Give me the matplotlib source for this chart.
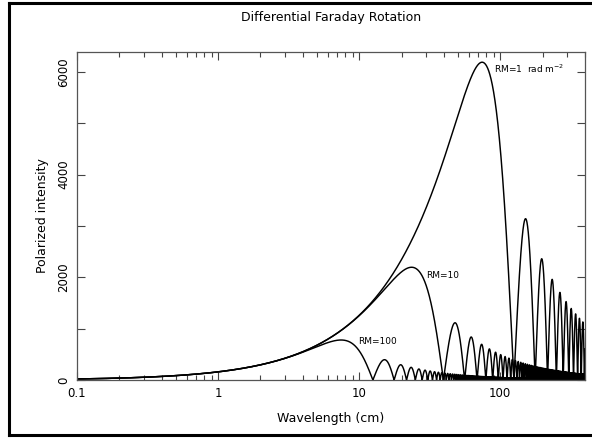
import numpy as np
import matplotlib
matplotlib.use("Agg")
import matplotlib.pyplot as plt
from matplotlib.ticker import FixedLocator, NullFormatter
from matplotlib.lines import Line2D

# ---- data (Burn depolarisation model, parameters) ----
rm_values = [1, 10, 100]                      # rad m^-2
rm_labels = ["RM=1  rad m$^{-2}$", "RM=10", "RM=100"]
label_x = [90.0, 30.0, 9.8]                   # cm
label_y = [6060, 2040, 744]
amplitude = 1.0e4                             # intensity at lambda = 1 m
spectral_index = 0.9                          # P ~ lambda^0.9
lam_min_cm, lam_max_cm = 0.1, 400.0
x_ticks = [0.1, 1, 10, 100]
x_ticklabels = ["0.1", "1", "10", "100"]
y_ticks = [0, 2000, 4000, 6000]
y_ticklabels = ["0", "2000", "4000", "6000"]

lam_cm = np.geomspace(lam_min_cm, lam_max_cm, 400000)
lam_m = lam_cm / 100.0

fig = plt.figure(figsize=(5.92, 4.38), dpi=100)
ax = fig.add_axes([77 / 592, 1 - 380 / 438, (585 - 77) / 592, (380 - 52) / 438])

for rm in rm_values:
    x = 2.0 * rm * lam_m ** 2
    p = amplitude * lam_m ** spectral_index * np.abs(np.sinc(x / np.pi))
    ax.plot(lam_cm, p, color="black", lw=1.05, antialiased=True)

for txt, tx, ty in zip(rm_labels, label_x, label_y):
    ax.text(tx, ty, txt, fontsize=6.5, ha="left", va="center", family="DejaVu Sans")

ax.set_xscale("log")
ax.set_xlim(lam_min_cm, lam_max_cm)
ax.set_ylim(0, 6390)

ax.xaxis.set_major_locator(FixedLocator(x_ticks))
ax.set_xticklabels(x_ticklabels)
minor = [m * 10.0 ** e for e in range(-1, 3) for m in range(2, 10)]
ax.xaxis.set_minor_locator(FixedLocator(minor))
ax.xaxis.set_minor_formatter(NullFormatter())
ax.yaxis.set_major_locator(FixedLocator(y_ticks))
ax.set_yticklabels(y_ticklabels, rotation=90, va="center")
ax.yaxis.set_minor_locator(FixedLocator([1000, 3000, 5000]))

ax.tick_params(which="both", direction="in", top=True, right=True,
               color="#444444", width=0.8, labelsize=8.5)
ax.tick_params(which="major", length=6, pad=5)
ax.tick_params(which="minor", length=3.5)
ax.tick_params(axis="y", which="minor", length=6)
for s in ax.spines.values():
    s.set_color("#555555")
    s.set_linewidth(0.9)

ax.set_xlabel("Wavelength (cm)", fontsize=9, labelpad=9)
ax.set_ylabel("Polarized intensity", fontsize=9, labelpad=6)
fig.text(331 / 592, 1 - 18 / 438, "Differential Faraday Rotation",
         ha="center", va="center", fontsize=9)

# outer border of the figure (cropped on the right in the reference)
for xs, ys in [([9 / 592, 9 / 592], [3 / 438, 435 / 438]),
               ([9 / 592, 1.0], [1 - 3 / 438, 1 - 3 / 438]),
               ([9 / 592, 1.0], [3 / 438, 3 / 438])]:
    fig.add_artist(Line2D(xs, ys, transform=fig.transFigure, color="black", lw=2.2))

fig.savefig("out.png", dpi=100)
